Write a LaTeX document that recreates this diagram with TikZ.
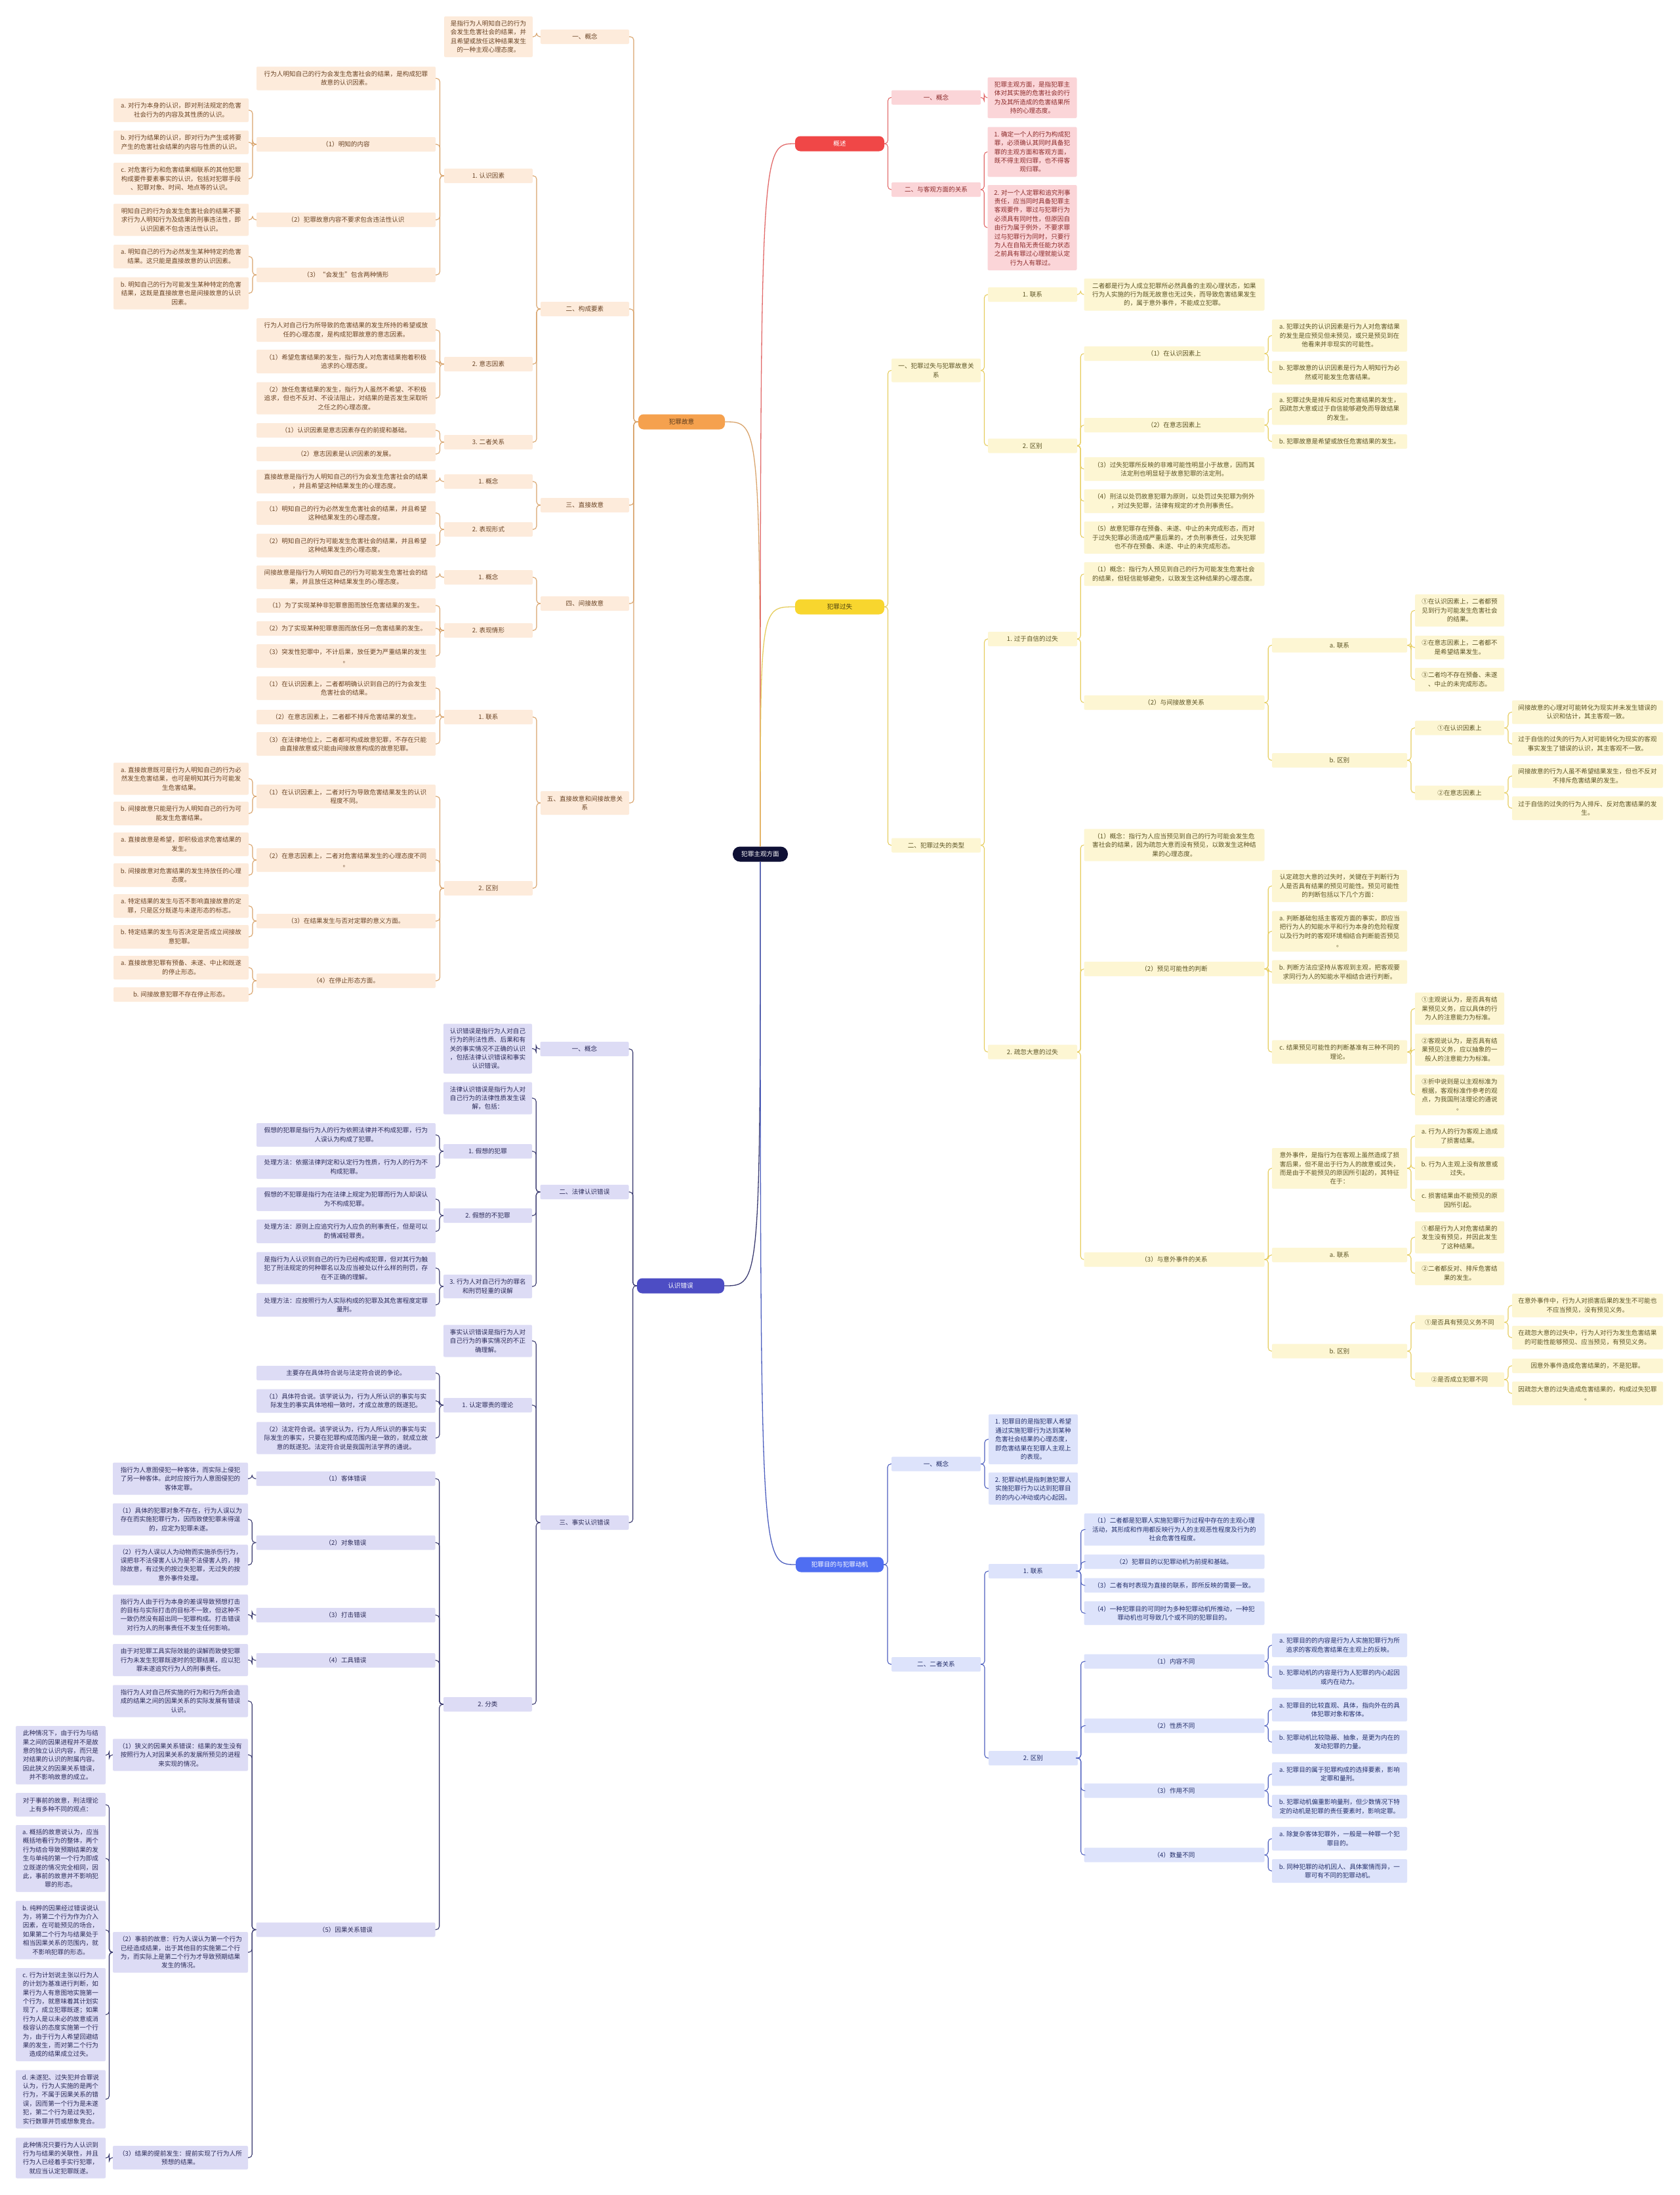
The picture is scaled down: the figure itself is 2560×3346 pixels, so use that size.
\documentclass[tikz,border=0pt]{standalone}
\usepackage{fontspec}
\setmainfont{Noto Sans CJK SC}
\usetikzlibrary{calc}
\definecolor{gyMc}{HTML}{F5A14E}\definecolor{gyMt}{HTML}{5A3A1C}
\definecolor{gyFc}{HTML}{FDEBDB}\definecolor{gyTc}{HTML}{6B4526}\definecolor{gyLc}{HTML}{D9A46C}
\definecolor{cwMc}{HTML}{4D4DC4}\definecolor{cwFc}{HTML}{DDDCF5}\definecolor{cwTc}{HTML}{2C2C5A}\definecolor{cwLc}{HTML}{3A3A70}
\definecolor{gsMc}{HTML}{F04747}\definecolor{gsFc}{HTML}{FBD5D8}\definecolor{gsTc}{HTML}{8C2B2B}\definecolor{gsLc}{HTML}{E26A6A}
\definecolor{gxMc}{HTML}{F8D62E}\definecolor{gxMt}{HTML}{4D4210}\definecolor{gxFc}{HTML}{FDF6D3}\definecolor{gxTc}{HTML}{5C5424}\definecolor{gxLc}{HTML}{E6CD5E}
\definecolor{mdMc}{HTML}{4F6EF2}\definecolor{mdFc}{HTML}{DDE3FB}\definecolor{mdTc}{HTML}{25306B}\definecolor{mdLc}{HTML}{4D5FBF}
\definecolor{rootc}{HTML}{0F1035}
\newcommand\myfs{\fontsize{9.6pt}{13.4pt}\selectfont}
\newcommand\nd[6]{\node[#2,minimum height=#5pt] (#1) at (#3,#4) {#6};}
\newcommand\cL[3]{\foreach \ch in {#3}{\draw[#1] (#2.west) -- ($(#2.west)!0.5!(#2.west -| \ch.east)$) |- (\ch.east);}}
\newcommand\cR[3]{\foreach \ch in {#3}{\draw[#1] (#2.east) -- ($(#2.east)!0.5!(#2.east -| \ch.west)$) |- (\ch.west);}}
\tikzset{
 bx/.style={rectangle,rounded corners=2pt,inner xsep=2pt,inner ysep=4pt,align=center,font=\myfs},
 mainbx/.style={bx,rounded corners=8pt,minimum height=23pt},
 ln/.style={line width=1.1pt,rounded corners=5pt},
 cv/.style={line width=1.3pt},
 wA/.style={minimum width=206pt}, wB/.style={minimum width=273pt},
 wC/.style={minimum width=135pt}, wF/.style={minimum width=137pt},
 wR/.style={minimum width=136pt}, wR3/.style={minimum width=275pt},
 wR6/.style={minimum width=230pt},
 gyN/.style={bx,fill=gyFc,text=gyTc}, gyM/.style={mainbx,fill=gyMc,text=gyMt,minimum width=132pt}, gyL/.style={ln,draw=gyLc},
 cwN/.style={bx,fill=cwFc,text=cwTc}, cwM/.style={mainbx,fill=cwMc,text=white,minimum width=133pt}, cwL/.style={ln,draw=cwLc},
 gsN/.style={bx,fill=gsFc,text=gsTc}, gsM/.style={mainbx,fill=gsMc,text=white,minimum width=136pt}, gsL/.style={ln,draw=gsLc},
 gxN/.style={bx,fill=gxFc,text=gxTc}, gxM/.style={mainbx,fill=gxMc,text=gxMt,minimum width=136pt}, gxL/.style={ln,draw=gxLc},
 mdN/.style={bx,fill=mdFc,text=mdTc}, mdM/.style={mainbx,fill=mdMc,text=white,minimum width=134pt}, mdL/.style={ln,draw=mdLc},
}
\begin{document}
\begin{tikzpicture}[x=1pt,y=-1pt]
\fill[white] (0,0) rectangle (2560,3346);
\useasboundingbox (0,0) rectangle (2560,3346);
\node[mainbx,rounded corners=11pt,fill=rootc,text=white,minimum width=84pt] (root) at (1159,1302) {犯罪主观方面};
% ===== 犯罪故意 =====
\nd{gy}{gyM}{1039}{643}{23}{犯罪故意}
\nd{gy1}{gyN,wC}{891.5}{56}{22}{一、概念}
\nd{gy1a}{gyN,wC}{744.5}{56}{62}{是指行为人明知自己的行为\\会发生危害社会的结果，并\\且希望或放任这种结果发生\\的一种主观心理态度。}
\nd{gy2}{gyN,wC}{891.5}{471}{22}{二、构成要素}
\nd{gy21}{gyN,wC}{744.5}{268}{22}{1. 认识因素}
\nd{gy21a}{gyN,wB}{527.5}{119.5}{36}{行为人明知自己的行为会发生危害社会的结果，是构成犯罪\\故意的认识因素。}
\nd{gy21b}{gyN,wB}{527.5}{220}{22}{（1）明知的内容}
\nd{gy21b1}{gyN,wA}{276}{168}{36}{a. 对行为本身的认识，即对刑法规定的危害\\社会行为的内容及其性质的认识。}
\nd{gy21b2}{gyN,wA}{276}{217}{36}{b. 对行为结果的认识，即对行为产生或将要\\产生的危害社会结果的内容与性质的认识。}
\nd{gy21b3}{gyN,wA}{276}{272.5}{49}{c. 对危害行为和危害结果相联系的其他犯罪\\构成要件要素事实的认识，包括对犯罪手段\\、犯罪对象、时间、地点等的认识。}
\nd{gy21c}{gyN,wB}{527.5}{335}{22}{（2）犯罪故意内容不要求包含违法性认识}
\nd{gy21c1}{gyN,wA}{276}{335}{49}{明知自己的行为会发生危害社会的结果不要\\求行为人明知行为及结果的刑事违法性，即\\认识因素不包含违法性认识。}
\nd{gy21d}{gyN,wB}{527.5}{419}{22}{（3）“会发生”包含两种情形}
\nd{gy21d1}{gyN,wA}{276}{391}{36}{a. 明知自己的行为必然发生某种特定的危害\\结果。这只能是直接故意的认识因素。}
\nd{gy21d2}{gyN,wA}{276}{447}{49}{b. 明知自己的行为可能发生某种特定的危害\\结果，这既是直接故意也是间接故意的认识\\因素。}
\nd{gy22}{gyN,wC}{744.5}{555}{22}{2. 意志因素}
\nd{gy22a}{gyN,wB}{527.5}{503}{36}{行为人对自己行为所导致的危害结果的发生所持的希望或放\\任的心理态度，是构成犯罪故意的意志因素。}
\nd{gy22b}{gyN,wB}{527.5}{551}{36}{（1）希望危害结果的发生，指行为人对危害结果抱着积极\\追求的心理态度。}
\nd{gy22c}{gyN,wB}{527.5}{607}{49}{（2）放任危害结果的发生，指行为人虽然不希望、不积极\\追求，但也不反对、不设法阻止，对结果的是否发生采取听\\之任之的心理态度。}
\nd{gy23}{gyN,wC}{744.5}{674}{22}{3. 二者关系}
\nd{gy23a}{gyN,wB}{527.5}{656}{22}{（1）认识因素是意志因素存在的前提和基础。}
\nd{gy23b}{gyN,wB}{527.5}{692}{22}{（2）意志因素是认识因素的发展。}
\nd{gy3}{gyN,wC}{891.5}{770}{22}{三、直接故意}
\nd{gy31}{gyN,wC}{744.5}{734}{22}{1. 概念}
\nd{gy31a}{gyN,wB}{527.5}{734}{36}{直接故意是指行为人明知自己的行为会发生危害社会的结果\\，并且希望这种结果发生的心理态度。}
\nd{gy32}{gyN,wC}{744.5}{807}{22}{2. 表现形式}
\nd{gy32a}{gyN,wB}{527.5}{782}{36}{（1）明知自己的行为必然发生危害社会的结果，并且希望\\这种结果发生的心理态度。}
\nd{gy32b}{gyN,wB}{527.5}{831.5}{36}{（2）明知自己的行为可能发生危害社会的结果，并且希望\\这种结果发生的心理态度。}
\nd{gy4}{gyN,wC}{891.5}{920}{22}{四、间接故意}
\nd{gy41}{gyN,wC}{744.5}{880}{22}{1. 概念}
\nd{gy41a}{gyN,wB}{527.5}{880}{36}{间接故意是指行为人明知自己的行为可能发生危害社会的结\\果，并且放任这种结果发生的心理态度。}
\nd{gy42}{gyN,wC}{744.5}{961}{22}{2. 表现情形}
\nd{gy42a}{gyN,wB}{527.5}{923}{22}{（1）为了实现某种非犯罪意图而放任危害结果的发生。}
\nd{gy42b}{gyN,wB}{527.5}{958}{22}{（2）为了实现某种犯罪意图而放任另一危害结果的发生。}
\nd{gy42c}{gyN,wB}{527.5}{1000}{36}{（3）突发性犯罪中，不计后果，放任更为严重结果的发生\\。}
\nd{gy5}{gyN,wC}{891.5}{1224}{36}{五、直接故意和间接故意关\\系}
\nd{gy51}{gyN,wC}{744.5}{1093}{22}{1. 联系}
\nd{gy51a}{gyN,wB}{527.5}{1049}{36}{（1）在认识因素上，二者都明确认识到自己的行为会发生\\危害社会的结果。}
\nd{gy51b}{gyN,wB}{527.5}{1093}{22}{（2）在意志因素上，二者都不排斥危害结果的发生。}
\nd{gy51c}{gyN,wB}{527.5}{1134}{36}{（3）在法律地位上，二者都可构成故意犯罪，不存在只能\\由直接故意或只能由间接故意构成的故意犯罪。}
\nd{gy52}{gyN,wC}{744.5}{1354}{22}{2. 区别}
\nd{gy52a}{gyN,wB}{527.5}{1214}{36}{（1）在认识因素上，二者对行为导致危害结果发生的认识\\程度不同。}
\nd{gy52a1}{gyN,wA}{276}{1187}{49}{a. 直接故意既可是行为人明知自己的行为必\\然发生危害结果，也可是明知其行为可能发\\生危害结果。}
\nd{gy52a2}{gyN,wA}{276}{1240}{36}{b. 间接故意只能是行为人明知自己的行为可\\能发生危害结果。}
\nd{gy52b}{gyN,wB}{527.5}{1311}{36}{（2）在意志因素上，二者对危害结果发生的心理态度不同\\。}
\nd{gy52b1}{gyN,wA}{276}{1287}{36}{a. 直接故意是希望，即积极追求危害结果的\\发生。}
\nd{gy52b2}{gyN,wA}{276}{1334}{36}{b. 间接故意对危害结果的发生持放任的心理\\态度。}
\nd{gy52c}{gyN,wB}{527.5}{1404}{22}{（3）在结果发生与否对定罪的意义方面。}
\nd{gy52c1}{gyN,wA}{276}{1381}{36}{a. 特定结果的发生与否不影响直接故意的定\\罪，只是区分既遂与未遂形态的标志。}
\nd{gy52c2}{gyN,wA}{276}{1428}{36}{b. 特定结果的发生与否决定是否成立间接故\\意犯罪。}
\nd{gy52d}{gyN,wB}{527.5}{1495}{22}{（4）在停止形态方面。}
\nd{gy52d1}{gyN,wA}{276}{1475}{36}{a. 直接故意犯罪有预备、未遂、中止和既遂\\的停止形态。}
\nd{gy52d2}{gyN,wA}{276}{1516}{22}{b. 间接故意犯罪不存在停止形态。}
% ===== 认识错误 =====
\nd{cw}{cwM}{1037.5}{1960}{23}{认识错误}
\nd{cw1}{cwN,wC}{891}{1599}{22}{一、概念}
\nd{cw1a}{cwN,wC}{743.5}{1598.5}{76}{认识错误是指行为人对自己\\行为的刑法性质、后果和有\\关的事实情况不正确的认识\\，包括法律认识错误和事实\\认识错误。}
\nd{cw2}{cwN,wC}{891}{1817}{22}{二、法律认识错误}
\nd{cw2a}{cwN,wC}{743.5}{1674}{49}{法律认识错误是指行为人对\\自己行为的法律性质发生误\\解，包括：}
\nd{cw21}{cwN,wC}{743.5}{1755}{22}{1. 假想的犯罪}
\nd{cw21a}{cwN,wB}{527.5}{1730}{36}{假想的犯罪是指行为人的行为依照法律并不构成犯罪，行为\\人误认为构成了犯罪。}
\nd{cw21b}{cwN,wB}{527.5}{1779}{36}{处理方法：依据法律判定和认定行为性质，行为人的行为不\\构成犯罪。}
\nd{cw22}{cwN,wC}{743.5}{1853}{22}{2. 假想的不犯罪}
\nd{cw22a}{cwN,wB}{527.5}{1828}{36}{假想的不犯罪是指行为在法律上规定为犯罪而行为人却误认\\为不构成犯罪。}
\nd{cw22b}{cwN,wB}{527.5}{1877}{36}{处理方法：原则上应追究行为人应负的刑事责任，但是可以\\酌情减轻罪责。}
\nd{cw23}{cwN,wC}{743.5}{1961}{36}{3. 行为人对自己行为的罪名\\和刑罚轻重的误解}
\nd{cw23a}{cwN,wB}{527.5}{1933}{49}{是指行为人认识到自己的行为已经构成犯罪，但对其行为触\\犯了刑法规定的何种罪名以及应当被处以什么样的刑罚，存\\在不正确的理解。}
\nd{cw23b}{cwN,wB}{527.5}{1989}{36}{处理方法：应按照行为人实际构成的犯罪及其危害程度定罪\\量刑。}
\nd{cw3}{cwN,wC}{891}{2321}{22}{三、事实认识错误}
\nd{cw3a}{cwN,wC}{743.5}{2044}{49}{事实认识错误是指行为人对\\自己行为的事实情况的不正\\确理解。}
\nd{cw31}{cwN,wC}{743.5}{2142}{22}{1. 认定罪责的理论}
\nd{cw31a}{cwN,wB}{527.5}{2093}{22}{主要存在具体符合说与法定符合说的争论。}
\nd{cw31b}{cwN,wB}{527.5}{2135.5}{36}{（1）具体符合说。该学说认为，行为人所认识的事实与实\\际发生的事实具体地相一致时，才成立故意的既遂犯。}
\nd{cw31c}{cwN,wB}{527.5}{2192}{49}{（2）法定符合说。该学说认为，行为人所认识的事实与实\\际发生的事实，只要在犯罪构成范围内是一致的，就成立故\\意的既遂犯。法定符合说是我国刑法学界的通说。}
\nd{cw32}{cwN,wC}{743.5}{2598}{22}{2. 分类}
\nd{cw321}{cwN,wB}{527}{2254}{22}{（1）客体错误}
\nd{cw321a}{cwN,wA}{275}{2254}{49}{指行为人意图侵犯一种客体，而实际上侵犯\\了另一种客体。此时应按行为人意图侵犯的\\客体定罪。}
\nd{cw322}{cwN,wB}{527}{2351.5}{22}{（2）对象错误}
\nd{cw322a}{cwN,wA}{275}{2316}{49}{（1）具体的犯罪对象不存在，行为人误以为\\存在而实施犯罪行为，因而致使犯罪未得逞\\的，应定为犯罪未遂。}
\nd{cw322b}{cwN,wA}{275}{2385.5}{62}{（2）行为人误以人为动物而实施杀伤行为，\\误把非不法侵害人认为是不法侵害人的，排\\除故意，有过失的按过失犯罪，无过失的按\\意外事件处理。}
\nd{cw323}{cwN,wB}{527}{2462}{22}{（3）打击错误}
\nd{cw323a}{cwN,wA}{275}{2461.5}{62}{指行为人由于行为本身的差误导致预想打击\\的目标与实际打击的目标不一致，但这种不\\一致仍然没有超出同一犯罪构成。打击错误\\对行为人的刑事责任不发生任何影响。}
\nd{cw324}{cwN,wB}{527}{2531}{22}{（4）工具错误}
\nd{cw324a}{cwN,wA}{275}{2530.5}{49}{由于对犯罪工具实际效能的误解而致使犯罪\\行为未发生犯罪既遂时的犯罪结果，应以犯\\罪未遂追究行为人的刑事责任。}
\nd{cw325}{cwN,wB}{527}{2941.5}{22}{（5）因果关系错误}
\nd{cw325a}{cwN,wA}{275}{2593}{49}{指行为人对自己所实施的行为和行为所会造\\成的结果之间的因果关系的实际发展有错误\\认识。}
\nd{cw325b}{cwN,wA}{275}{2675}{49}{（1）狭义的因果关系错误：结果的发生没有\\按照行为人对因果关系的发展所预见的进程\\来实现的情况。}
\nd{cwf1}{cwN,wF}{92.5}{2675.5}{89}{此种情况下，由于行为与结\\果之间的因果进程并不是故\\意的独立认识内容，而只是\\对结果的认识的附属内容。\\因此狭义的因果关系错误，\\并不影响故意的成立。}
\nd{cw325c}{cwN,wA}{275}{2976}{62}{（2）事前的故意：行为人误认为第一个行为\\已经造成结果，出于其他目的实施第二个行\\为，而实际上是第二个行为才导致预期结果\\发生的情况。}
\nd{cwf2}{cwN,wF}{92.5}{2751}{36}{对于事前的故意，刑法理论\\上有多种不同的观点：}
\nd{cwf3}{cwN,wF}{92.5}{2833}{102}{a. 概括的故意说认为，应当\\概括地看行为的整体，两个\\行为结合导致预期结果的发\\生与单纯的第一个行为即成\\立既遂的情况完全相同，因\\此，事前的故意并不影响犯\\罪的形态。}
\nd{cwf4}{cwN,wF}{92.5}{2942}{89}{b. 纯粹的因果经过错误说认\\为，将第二个行为作为介入\\因素，在可能预见的场合，\\如果第二个行为与结果处于\\相当因果关系的范围内，就\\不影响犯罪的形态。}
\nd{cwf5}{cwN,wF}{92.5}{3071}{142}{c. 行为计划说主张以行为人\\的计划为基准进行判断，如\\果行为人有意图地实施第一\\个行为，就意味着其计划实\\现了，成立犯罪既遂；如果\\行为人是以未必的故意或消\\极容认的态度实施第一个行\\为，由于行为人希望回避结\\果的发生，而对第二个行为\\造成的结果成立过失。}
\nd{cwf6}{cwN,wF}{92.5}{3200}{89}{d. 未遂犯、过失犯并合罪说\\认为，行为人实施的是两个\\行为，不属于因果关系的错\\误，因而第一个行为是未遂\\犯，第二个行为是过失犯，\\实行数罪并罚或想象竞合。}
\nd{cw325d}{cwN,wA}{275}{3289}{36}{（3）结果的提前发生：提前实现了行为人所\\预想的结果。}
\nd{cwf7}{cwN,wF}{92.5}{3289.5}{62}{此种情况只要行为人认识到\\行为与结果的关联性，并且\\行为人已经着手实行犯罪，\\就应当认定犯罪既遂。}
% ===== 概述 =====
\nd{gs}{gsM}{1280}{219}{23}{概述}
\nd{gs1}{gsN,wR}{1427}{148.5}{22}{一、概念}
\nd{gs1a}{gsN,wR}{1573.5}{149}{62}{犯罪主观方面，是指犯罪主\\体对其实施的危害社会的行\\为及其所造成的危害结果所\\持的心理态度。}
\nd{gs2}{gsN,wR}{1427}{289}{22}{二、与客观方面的关系}
\nd{gs2a}{gsN,wR}{1573.5}{231.5}{76}{1. 确定一个人的行为构成犯\\罪，必须确认其同时具备犯\\罪的主观方面和客观方面，\\既不得主观归罪，也不得客\\观归罪。}
\nd{gs2b}{gsN,wR}{1573.5}{347}{130}{2. 对一个人定罪和追究刑事\\责任，应当同时具备犯罪主\\客观要件，罪过与犯罪行为\\必须具有同时性，但原因自\\由行为属于例外，不要求罪\\过与犯罪行为同时，只要行\\为人在自陷无责任能力状态\\之前具有罪过心理就能认定\\行为人有罪过。}
% ===== 犯罪过失 =====
\nd{gx}{gxM}{1280}{925}{23}{犯罪过失}
\nd{gx1}{gxN,wR}{1427}{564.6}{36}{一、犯罪过失与犯罪故意关\\系}
\nd{gx11}{gxN,wR}{1574}{449}{22}{1. 联系}
\nd{gx11a}{gxN,wR3}{1790}{449}{49}{二者都是行为人成立犯罪所必然具备的主观心理状态，如果\\行为人实施的行为既无故意也无过失，而导致危害结果发生\\的，属于意外事件，不能成立犯罪。}
\nd{gx12}{gxN,wR}{1574}{679.5}{22}{2. 区别}
\nd{gx12a}{gxN,wR3}{1790}{539}{22}{（1）在认识因素上}
\nd{gx12a1}{gxN,wA}{2042}{511.5}{49}{a. 犯罪过失的认识因素是行为人对危害结果\\的发生是应预见但未预见，或只是预见到在\\他看来并非现实的可能性。}
\nd{gx12a2}{gxN,wA}{2042}{568}{36}{b. 犯罪故意的认识因素是行为人明知行为必\\然或可能发生危害结果。}
\nd{gx12b}{gxN,wR3}{1790}{648}{22}{（2）在意志因素上}
\nd{gx12b1}{gxN,wA}{2042}{623}{49}{a. 犯罪过失是排斥和反对危害结果的发生，\\因疏忽大意或过于自信能够避免而导致结果\\的发生。}
\nd{gx12b2}{gxN,wA}{2042}{673}{22}{b. 犯罪故意是希望或放任危害结果的发生。}
\nd{gx12c}{gxN,wR3}{1790}{715}{36}{（3）过失犯罪所反映的非难可能性明显小于故意，因而其\\法定刑也明显轻于故意犯罪的法定刑。}
\nd{gx12d}{gxN,wR3}{1790}{764}{36}{（4）刑法以处罚故意犯罪为原则，以处罚过失犯罪为例外\\，对过失犯罪，法律有规定的才负刑事责任。}
\nd{gx12e}{gxN,wR3}{1790}{819.5}{49}{（5）故意犯罪存在预备、未遂、中止的未完成形态，而对\\于过失犯罪必须造成严重后果的，才负刑事责任，过失犯罪\\也不存在预备、未遂、中止的未完成形态。}
\nd{gx2}{gxN,wR}{1427}{1288.5}{22}{二、犯罪过失的类型}
\nd{gx21}{gxN,wR}{1574}{974}{22}{1. 过于自信的过失}
\nd{gx21a}{gxN,wR3}{1790}{875}{36}{（1）概念：指行为人预见到自己的行为可能发生危害社会\\的结果，但轻信能够避免，以致发生这种结果的心理态度。}
\nd{gx21b}{gxN,wR3}{1790}{1071}{22}{（2）与间接故意关系}
\nd{gx21b1}{gxN,wA}{2042}{983.6}{22}{a. 联系}
\nd{gx21b1a}{gxN,wR}{2225}{930.6}{49}{①在认识因素上，二者都预\\见到行为可能发生危害社会\\的结果。}
\nd{gx21b1b}{gxN,wR}{2225}{987}{36}{②在意志因素上，二者都不\\是希望结果发生。}
\nd{gx21b1c}{gxN,wR}{2225}{1036}{36}{③二者均不存在预备、未遂\\、中止的未完成形态。}
\nd{gx21b2}{gxN,wA}{2042}{1159}{22}{b. 区别}
\nd{gx21b2a}{gxN,wR}{2225}{1109.6}{22}{①在认识因素上}
\nd{gx21b2a1}{gxN,wR6}{2420}{1085.6}{36}{间接故意的心理对可能转化为现实并未发生错误的\\认识和估计，其主客观一致。}
\nd{gx21b2a2}{gxN,wR6}{2420}{1134}{36}{过于自信的过失的行为人对可能转化为现实的客观\\事实发生了错误的认识，其主客观不一致。}
\nd{gx21b2b}{gxN,wR}{2225}{1208.5}{22}{②在意志因素上}
\nd{gx21b2b1}{gxN,wR6}{2420}{1183}{36}{间接故意的行为人虽不希望结果发生，但也不反对\\不排斥危害结果的发生。}
\nd{gx21b2b2}{gxN,wR6}{2420}{1232}{36}{过于自信的过失的行为人排斥、反对危害结果的发\\生。}
\nd{gx22}{gxN,wR}{1574}{1603.6}{22}{2. 疏忽大意的过失}
\nd{gx22a}{gxN,wR3}{1790}{1288}{49}{（1）概念：指行为人应当预见到自己的行为可能会发生危\\害社会的结果，因为疏忽大意而没有预见，以致发生这种结\\果的心理态度。}
\nd{gx22b}{gxN,wR3}{1790}{1477}{22}{（2）预见可能性的判断}
\nd{gx22b1}{gxN,wA}{2042}{1350.6}{49}{认定疏忽大意的过失时，关键在于判断行为\\人是否具有结果的预见可能性。预见可能性\\的判断包括以下几个方面：}
\nd{gx22b2}{gxN,wA}{2042}{1419.6}{62}{a. 判断基础包括主客观方面的事实，即应当\\把行为人的知能水平和行为本身的危险程度\\以及行为时的客观环境相结合判断能否预见\\。}
\nd{gx22b3}{gxN,wA}{2042}{1481.7}{36}{b. 判断方法应坚持从客观到主观，把客观要\\求同行为人的知能水平相结合进行判断。}
\nd{gx22b4}{gxN,wA}{2042}{1603.6}{36}{c. 结果预见可能性的判断基准有三种不同的\\理论。}
\nd{gx22b4a}{gxN,wR}{2225}{1537.6}{49}{①主观说认为，是否具有结\\果预见义务，应以具体的行\\为人的注意能力为标准。}
\nd{gx22b4b}{gxN,wR}{2225}{1600}{49}{②客观说认为，是否具有结\\果预见义务，应以抽象的一\\般人的注意能力为标准。}
\nd{gx22b4c}{gxN,wR}{2225}{1669}{62}{③折中说则是以主观标准为\\根据，客观标准作参考的观\\点，为我国刑法理论的通说\\。}
\nd{gx22c}{gxN,wR3}{1790}{1920}{22}{（3）与意外事件的关系}
\nd{gx22c1}{gxN,wA}{2042}{1781}{62}{意外事件，是指行为在客观上虽然造成了损\\害后果，但不是出于行为人的故意或过失，\\而是由于不能预见的原因所引起的，其特征\\在于：}
\nd{gx22c1a}{gxN,wR}{2225}{1732}{36}{a. 行为人的行为客观上造成\\了损害结果。}
\nd{gx22c1b}{gxN,wR}{2225}{1781}{36}{b. 行为人主观上没有故意或\\过失。}
\nd{gx22c1c}{gxN,wR}{2225}{1830}{36}{c. 损害结果由不能预见的原\\因所引起。}
\nd{gx22c2}{gxN,wA}{2042}{1913}{22}{a. 联系}
\nd{gx22c2a}{gxN,wR}{2225}{1886}{49}{①都是行为人对危害结果的\\发生没有预见，并因此发生\\了这种结果。}
\nd{gx22c2b}{gxN,wR}{2225}{1941}{36}{②二者都反对、排斥危害结\\果的发生。}
\nd{gx22c3}{gxN,wA}{2042}{2059.6}{22}{b. 区别}
\nd{gx22c3a}{gxN,wR}{2225}{2015.6}{22}{①是否具有预见义务不同}
\nd{gx22c3a1}{gxN,wR6}{2420}{1990}{36}{在意外事件中，行为人对损害后果的发生不可能也\\不应当预见，没有预见义务。}
\nd{gx22c3a2}{gxN,wR6}{2420}{2039}{36}{在疏忽大意的过失中，行为人对行为发生危害结果\\的可能性能够预见、应当预见，有预见义务。}
\nd{gx22c3b}{gxN,wR}{2225}{2103}{22}{②是否成立犯罪不同}
\nd{gx22c3b1}{gxN,wR6}{2420}{2082}{22}{因意外事件造成危害结果的，不是犯罪。}
\nd{gx22c3b2}{gxN,wR6}{2420}{2124}{36}{因疏忽大意的过失造成危害结果的，构成过失犯罪\\。}
% ===== 犯罪目的与犯罪动机 =====
\nd{md}{mdM}{1280}{2385}{23}{犯罪目的与犯罪动机}
\nd{md1}{mdN,wR}{1427}{2231.6}{22}{一、概念}
\nd{md1a}{mdN,wR}{1575}{2194}{76}{1. 犯罪目的是指犯罪人希望\\通过实施犯罪行为达到某种\\危害社会结果的心理态度，\\即危害结果在犯罪人主观上\\的表现。}
\nd{md1b}{mdN,wR}{1575}{2269}{49}{2. 犯罪动机是指刺激犯罪人\\实施犯罪行为以达到犯罪目\\的的内心冲动或内心起因。}
\nd{md2}{mdN,wR}{1427}{2537}{22}{二、二者关系}
\nd{md21}{mdN,wR}{1575}{2395}{22}{1. 联系}
\nd{md21a}{mdN,wR3}{1790}{2331.6}{49}{（1）二者都是犯罪人实施犯罪行为过程中存在的主观心理\\活动，其形成和作用都反映行为人的主观恶性程度及行为的\\社会危害性程度。}
\nd{md21b}{mdN,wR3}{1790}{2380.6}{22}{（2）犯罪目的以犯罪动机为前提和基础。}
\nd{md21c}{mdN,wR3}{1790}{2416.6}{22}{（3）二者有时表现为直接的联系，即所反映的需要一致。}
\nd{md21d}{mdN,wR3}{1790}{2459}{36}{（4）一种犯罪目的可同时为多种犯罪动机所推动，一种犯\\罪动机也可导致几个或不同的犯罪目的。}
\nd{md22}{mdN,wR}{1575}{2680}{22}{2. 区别}
\nd{md22a}{mdN,wR3}{1790}{2532.6}{22}{（1）内容不同}
\nd{md22a1}{mdN,wA}{2042}{2508}{36}{a. 犯罪目的的内容是行为人实施犯罪行为所\\追求的客观危害结果在主观上的反映。}
\nd{md22a2}{mdN,wA}{2042}{2557}{36}{b. 犯罪动机的内容是行为人犯罪的内心起因\\或内在动力。}
\nd{md22b}{mdN,wR3}{1790}{2630.7}{22}{（2）性质不同}
\nd{md22b1}{mdN,wA}{2042}{2606}{36}{a. 犯罪目的比较直观、具体，指向外在的具\\体犯罪对象和客体。}
\nd{md22b2}{mdN,wA}{2042}{2655.6}{36}{b. 犯罪动机比较隐蔽、抽象，是更为内在的\\发动犯罪的力量。}
\nd{md22c}{mdN,wR3}{1790}{2729.6}{22}{（3）作用不同}
\nd{md22c1}{mdN,wA}{2042}{2704.4}{36}{a. 犯罪目的属于犯罪构成的选择要素，影响\\定罪和量刑。}
\nd{md22c2}{mdN,wA}{2042}{2753.8}{36}{b. 犯罪动机偏重影响量刑，但少数情况下特\\定的动机是犯罪的责任要素时，影响定罪。}
\nd{md22d}{mdN,wR3}{1790}{2827.6}{22}{（4）数量不同}
\nd{md22d1}{mdN,wA}{2042}{2802.8}{36}{a. 除复杂客体犯罪外，一般是一种罪一个犯\\罪目的。}
\nd{md22d2}{mdN,wA}{2042}{2852}{36}{b. 同种犯罪的动机因人、具体案情而异，一\\罪可有不同的犯罪动机。}
% ===== connectors from root =====
\draw[cv,draw=gyLc] (root.north) .. controls (root.north |- gy.east) .. (gy.east);
\draw[cv,draw=gsLc] (root.north) .. controls (root.north |- gs.west) .. (gs.west);
\draw[cv,draw=gxLc] (root.north) .. controls (root.north |- gx.west) .. (gx.west);
\draw[cv,draw=cwLc] (root.south) .. controls (root.south |- cw.east) .. (cw.east);
\draw[cv,draw=mdLc] (root.south) .. controls (root.south |- md.west) .. (md.west);
% ===== connectors 犯罪故意 =====
\cL{gyL}{gy}{gy1,gy2,gy3,gy4,gy5}
\cL{gyL}{gy1}{gy1a}
\cL{gyL}{gy2}{gy21,gy22,gy23}
\cL{gyL}{gy21}{gy21a,gy21b,gy21c,gy21d}
\cL{gyL}{gy21b}{gy21b1,gy21b2,gy21b3}
\cL{gyL}{gy21c}{gy21c1}
\cL{gyL}{gy21d}{gy21d1,gy21d2}
\cL{gyL}{gy22}{gy22a,gy22b,gy22c}
\cL{gyL}{gy23}{gy23a,gy23b}
\cL{gyL}{gy3}{gy31,gy32}
\cL{gyL}{gy31}{gy31a}
\cL{gyL}{gy32}{gy32a,gy32b}
\cL{gyL}{gy4}{gy41,gy42}
\cL{gyL}{gy41}{gy41a}
\cL{gyL}{gy42}{gy42a,gy42b,gy42c}
\cL{gyL}{gy5}{gy51,gy52}
\cL{gyL}{gy51}{gy51a,gy51b,gy51c}
\cL{gyL}{gy52}{gy52a,gy52b,gy52c,gy52d}
\cL{gyL}{gy52a}{gy52a1,gy52a2}
\cL{gyL}{gy52b}{gy52b1,gy52b2}
\cL{gyL}{gy52c}{gy52c1,gy52c2}
\cL{gyL}{gy52d}{gy52d1,gy52d2}
% ===== connectors 认识错误 =====
\cL{cwL}{cw}{cw1,cw2,cw3}
\cL{cwL}{cw1}{cw1a}
\cL{cwL}{cw2}{cw2a,cw21,cw22,cw23}
\cL{cwL}{cw21}{cw21a,cw21b}
\cL{cwL}{cw22}{cw22a,cw22b}
\cL{cwL}{cw23}{cw23a,cw23b}
\cL{cwL}{cw3}{cw3a,cw31,cw32}
\cL{cwL}{cw31}{cw31a,cw31b,cw31c}
\cL{cwL}{cw32}{cw321,cw322,cw323,cw324,cw325}
\cL{cwL}{cw321}{cw321a}
\cL{cwL}{cw322}{cw322a,cw322b}
\cL{cwL}{cw323}{cw323a}
\cL{cwL}{cw324}{cw324a}
\cL{cwL}{cw325}{cw325a,cw325b,cw325c,cw325d}
\cL{cwL}{cw325b}{cwf1}
\cL{cwL}{cw325c}{cwf2,cwf3,cwf4,cwf5,cwf6}
\cL{cwL}{cw325d}{cwf7}
% ===== connectors 概述 =====
\cR{gsL}{gs}{gs1,gs2}
\cR{gsL}{gs1}{gs1a}
\cR{gsL}{gs2}{gs2a,gs2b}
% ===== connectors 犯罪过失 =====
\cR{gxL}{gx}{gx1,gx2}
\cR{gxL}{gx1}{gx11,gx12}
\cR{gxL}{gx11}{gx11a}
\cR{gxL}{gx12}{gx12a,gx12b,gx12c,gx12d,gx12e}
\cR{gxL}{gx12a}{gx12a1,gx12a2}
\cR{gxL}{gx12b}{gx12b1,gx12b2}
\cR{gxL}{gx2}{gx21,gx22}
\cR{gxL}{gx21}{gx21a,gx21b}
\cR{gxL}{gx21b}{gx21b1,gx21b2}
\cR{gxL}{gx21b1}{gx21b1a,gx21b1b,gx21b1c}
\cR{gxL}{gx21b2}{gx21b2a,gx21b2b}
\cR{gxL}{gx21b2a}{gx21b2a1,gx21b2a2}
\cR{gxL}{gx21b2b}{gx21b2b1,gx21b2b2}
\cR{gxL}{gx22}{gx22a,gx22b,gx22c}
\cR{gxL}{gx22b}{gx22b1,gx22b2,gx22b3,gx22b4}
\cR{gxL}{gx22b4}{gx22b4a,gx22b4b,gx22b4c}
\cR{gxL}{gx22c}{gx22c1,gx22c2,gx22c3}
\cR{gxL}{gx22c1}{gx22c1a,gx22c1b,gx22c1c}
\cR{gxL}{gx22c2}{gx22c2a,gx22c2b}
\cR{gxL}{gx22c3}{gx22c3a,gx22c3b}
\cR{gxL}{gx22c3a}{gx22c3a1,gx22c3a2}
\cR{gxL}{gx22c3b}{gx22c3b1,gx22c3b2}
% ===== connectors 犯罪目的与犯罪动机 =====
\cR{mdL}{md}{md1,md2}
\cR{mdL}{md1}{md1a,md1b}
\cR{mdL}{md2}{md21,md22}
\cR{mdL}{md21}{md21a,md21b,md21c,md21d}
\cR{mdL}{md22}{md22a,md22b,md22c,md22d}
\cR{mdL}{md22a}{md22a1,md22a2}
\cR{mdL}{md22b}{md22b1,md22b2}
\cR{mdL}{md22c}{md22c1,md22c2}
\cR{mdL}{md22d}{md22d1,md22d2}
\end{tikzpicture}
\end{document}
